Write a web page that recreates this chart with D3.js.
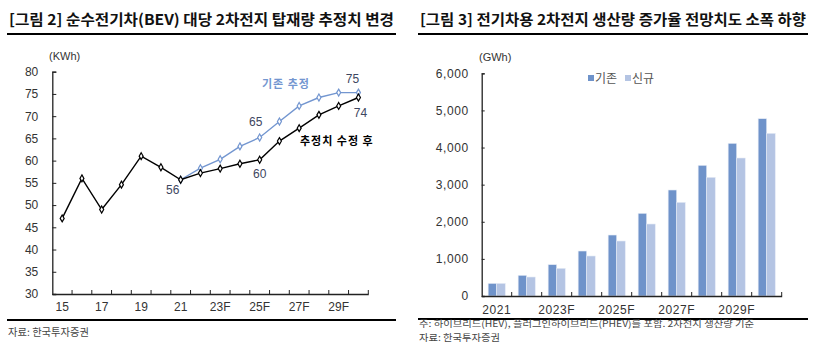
<!DOCTYPE html>
<html>
<head>
<meta charset="utf-8">
<script src="https://cdn.jsdelivr.net/npm/d3@7"></script>
<style>
  body { margin: 0; background: #fff; }
  svg text { font-family: "Liberation Sans", Arial, "Noto Sans CJK KR", sans-serif; }
  .kr { font-family: "Noto Sans CJK KR", sans-serif; }
</style>
</head>
<body>
<svg id="chart" width="822" height="351"></svg>
<script>
// left chart: kWh per BEV
var years1 = d3.range(2015, 2031);
var yearLabels1 = ["15", "", "17", "", "19", "", "21", "", "23F", "", "25F", "", "27F", "", "29F", ""];
var revised = [47, 56, 49, 54.6, 61, 58.5, 55.7, 57.2, 58.2, 59.3, 60.2, 64.4, 67.3, 70.3, 72.3, 74.2];
var previous = [null, null, null, null, null, null, 55.7, 58.3, 60.3, 63.2, 65.2, 68.8, 72.3, 74.2, 75.3, 75.3];
var yTicks1 = d3.range(30, 81, 5);

// right chart: battery production (GWh)
var years2 = d3.range(2021, 2031);
var yearLabels2 = ["2021", "", "2023F", "", "2025F", "", "2027F", "", "2029F", ""];
var seriesNames = ["기존", "신규"];
var prodOld = [340, 558, 844, 1212, 1643, 2228, 2856, 3521, 4114, 4777];
var prodNew = [340, 512, 746, 1078, 1482, 1940, 2524, 3198, 3718, 4383];
var yTicks2 = d3.range(0, 6001, 1000);

var svg = d3.select("#chart");
var numColor = "#3d4660";
var blue = "#7396d0";

function header(x0, x1, title) {
    var t = svg.append("text").attr("class", "kr")
        .attr("x", x0 + 2).attr("y", 25)
        .style("font-size", "15px").style("font-weight", "bold").style("fill", "#111")
        .text(title);
    t.attr("textLength", x1 - x0 - 4).attr("lengthAdjust", "spacingAndGlyphs");
    svg.append("line").attr("x1", x0).attr("x2", x1).attr("y1", 34).attr("y2", 34)
        .attr("stroke", "#000").attr("stroke-width", 2.2);
}
function footer(x0, x1, y, lines) {
    svg.append("line").attr("x1", x0).attr("x2", x1).attr("y1", y).attr("y2", y)
        .attr("stroke", "#000").attr("stroke-width", 2.2);
    lines.forEach(function(l) {
        var t = svg.append("text").attr("class", "kr")
            .attr("x", x0 + 1).attr("y", y + l.dy)
            .style("font-size", l.size + "px").style("fill", "#444").text(l.text);
        if (l.w) t.attr("textLength", l.w).attr("lengthAdjust", "spacingAndGlyphs");
    });
}

// ---------- left chart ----------
header(7, 396, "[그림 2] 순수전기차(BEV) 대당 2차전지 탑재량 추정치 변경");
footer(7, 396, 320, [{text: "자료: 한국투자증권", w: 81, dy: 16, size: 10}]);

var g1 = svg.append("g");
var x1 = d3.scaleBand().domain(years1).range([52.3, 368.3]).padding(0);
var y1 = d3.scaleLinear().domain([30, 80]).range([294, 71.7]);

g1.append("text").attr("x", 49).attr("y", 60).style("font-size", "11px").style("fill", "#333").text("(KWh)");

var yAx1 = g1.append("g").attr("transform", "translate(52.3,0)")
    .call(d3.axisLeft(y1).tickValues(yTicks1).tickSize(-4).tickPadding(14));
yAx1.select(".domain").attr("stroke", "#222").attr("stroke-width", 1.3);
yAx1.selectAll("line").attr("stroke", "#222");
yAx1.selectAll("text").style("font-size", "12px").style("fill", "#333");

var xAx1 = g1.append("g").attr("transform", "translate(0,294)")
    .call(d3.axisBottom(x1).tickSize(0).tickPadding(8)
        .tickFormat(function(d, i) { return yearLabels1[i]; }));
xAx1.select(".domain").attr("stroke", "#222").attr("stroke-width", 1.3);
xAx1.selectAll("text").style("font-size", "12px").style("fill", "#333");
g1.append("g").selectAll("line").data(years1).enter().append("line")
    .attr("x1", function(d) { return x1(d) + x1.bandwidth(); })
    .attr("x2", function(d) { return x1(d) + x1.bandwidth(); })
    .attr("y1", 294).attr("y2", 290).attr("stroke", "#222");

var cx1 = function(d) { return x1(d.year) + x1.bandwidth() / 2; };
var revData = years1.map(function(y, i) { return {year: y, v: revised[i]}; });
var prevData = years1.map(function(y, i) { return {year: y, v: previous[i]}; })
    .filter(function(d) { return d.v != null; });
var line1 = d3.line().x(cx1).y(function(d) { return y1(d.v); });

[[prevData, blue], [revData, "#000"]].forEach(function(s) {
    g1.append("path").datum(s[0]).attr("d", line1)
        .attr("fill", "none").attr("stroke", s[1]).attr("stroke-width", 1.4);
    g1.append("g").selectAll("path").data(s[0]).enter().append("path")
        .attr("d", d3.symbol(d3.symbolDiamond, 14))
        .attr("transform", function(d) { return "translate(" + cx1(d) + "," + y1(d.v) + ")"; })
        .attr("fill", "#fff").attr("stroke", s[1]).attr("stroke-width", 1.2);
});

// value labels
var lbl1 = [
    {year: 2021, v: revised[6], text: "56", dx: -8, dy: 14},
    {year: 2025, v: revised[10], text: "60", dx: 0, dy: 18},
    {year: 2025, v: previous[10], text: "65", dx: -4, dy: -12},
    {year: 2030, v: previous[15], text: "75", dx: -6, dy: -10},
    {year: 2030, v: revised[15], text: "74", dx: 2, dy: 20}
];
g1.selectAll(".vl").data(lbl1).enter().append("text")
    .attr("x", function(d) { return cx1(d) + d.dx; })
    .attr("y", function(d) { return y1(d.v) + d.dy; })
    .attr("text-anchor", "middle").style("font-size", "12px").style("fill", numColor)
    .text(function(d) { return d.text; });

g1.append("text").attr("class", "kr").attr("x", 262).attr("y", 88)
    .style("font-size", "11px").style("font-weight", "bold").style("letter-spacing", "1px")
    .style("fill", blue).text("기존 추정");
g1.append("text").attr("class", "kr").attr("x", 300).attr("y", 145)
    .style("font-size", "11px").style("font-weight", "bold").style("letter-spacing", "1px")
    .style("fill", "#000").text("추정치 수정 후");

// ---------- right chart ----------
header(418, 808, "[그림 3] 전기차용 2차전지 생산량 증가율 전망치도 소폭 하향");
footer(418, 808, 319, [
    {text: "주: 하이브리드(HEV), 플러그인하이브리드(PHEV)를 포함. 2차전지 생산량 기준", w: 335, dy: 8, size: 9},
    {text: "자료: 한국투자증권", w: 81, dy: 22, size: 9.5}
]);

var g2 = svg.append("g");
var xb = d3.scaleBand().domain(years2).range([481.7, 781.7]).padding(0);
var x0 = d3.scaleBand().domain(years2).range([481.7, 781.7]).paddingInner(0.43).paddingOuter(0.215);
var xs = d3.scaleBand().domain(seriesNames).range([0, x0.bandwidth()]);
var y2 = d3.scaleLinear().domain([0, 6000]).range([296, 73.3]);
var color = d3.scaleOrdinal().domain(seriesNames).range(["#6f93ca", "#b4c4e3"]);

g2.append("text").attr("x", 479).attr("y", 61).style("font-size", "11px").style("fill", "#333").text("(GWh)");

var barData = years2.map(function(y, i) {
    return {year: y, vals: [{k: "기존", v: prodOld[i]}, {k: "신규", v: prodNew[i]}]};
});
g2.append("g").selectAll("g").data(barData).enter().append("g")
    .attr("transform", function(d) { return "translate(" + x0(d.year) + ",0)"; })
    .selectAll("rect").data(function(d) { return d.vals; }).enter().append("rect")
    .attr("x", function(d) { return xs(d.k); })
    .attr("width", xs.bandwidth())
    .attr("y", function(d) { return y2(d.v); })
    .attr("height", function(d) { return 296 - y2(d.v); })
    .attr("fill", function(d) { return color(d.k); })
    .attr("stroke", "#e6ecf6").attr("stroke-width", 0.6);

var yAx2 = g2.append("g").attr("transform", "translate(481.7,0)")
    .call(d3.axisLeft(y2).tickValues(yTicks2).tickSize(-3).tickPadding(13).tickFormat(d3.format(",")));
yAx2.select(".domain").attr("stroke", "#222").attr("stroke-width", 1.3);
yAx2.selectAll("line").attr("stroke", "#222");
yAx2.selectAll("text").style("font-size", "12px").style("fill", "#333").style("letter-spacing", "0.6px");

var xAx2 = g2.append("g").attr("transform", "translate(0,296)")
    .call(d3.axisBottom(xb).tickSize(0).tickPadding(9)
        .tickFormat(function(d, i) { return yearLabels2[i]; }));
xAx2.select(".domain").attr("stroke", "#222").attr("stroke-width", 1.3);
xAx2.selectAll("text").style("font-size", "12px").style("fill", "#333").style("letter-spacing", "0.6px");
g2.append("g").selectAll("line").data(years2).enter().append("line")
    .attr("x1", function(d) { return xb(d) + xb.bandwidth(); })
    .attr("x2", function(d) { return xb(d) + xb.bandwidth(); })
    .attr("y1", 296).attr("y2", 292).attr("stroke", "#222");

// legend
var leg = g2.append("g").selectAll("g").data(seriesNames).enter().append("g")
    .attr("transform", function(d, i) { return "translate(" + (588 + i * 37) + ",78)"; });
leg.append("rect").attr("x", 0).attr("y", -3).attr("width", 6).attr("height", 6).attr("fill", color);
leg.append("text").attr("class", "kr").attr("x", 7).attr("y", 4.5)
    .style("font-size", "12px").style("fill", "#555").text(function(d) { return d; });
</script>
</body>
</html>
